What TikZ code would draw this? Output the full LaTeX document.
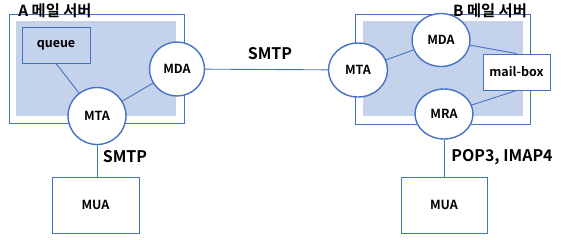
\documentclass[tikz,border=0pt]{standalone}
\usepackage{fontspec}
\setmainfont{Noto Sans CJK KR}[BoldFont={Noto Sans CJK KR Bold}]
\usetikzlibrary{shapes.geometric}
\definecolor{lnblue}{RGB}{68,114,196}
\definecolor{fillblue}{RGB}{197,210,236}
\tikzset{
  agent/.style={ellipse,draw=lnblue,line width=1.4pt,fill=white,inner sep=0pt,font=\bfseries\fontsize{12.5}{14}\selectfont},
  boxnode/.style={rectangle,draw=lnblue,line width=1pt,inner sep=0pt,font=\bfseries\fontsize{12.5}{14}\selectfont},
  conn/.style={draw=lnblue,line width=0.9pt},
  proto/.style={font=\bfseries\fontsize{16}{18}\selectfont,inner sep=0pt},
  title/.style={font=\bfseries\fontsize{15.3}{17}\selectfont,inner sep=0pt},
  server/.style={draw=lnblue,line width=1pt},
  serverfill/.style={fill=fillblue,draw=none}
}
\begin{document}
\begin{tikzpicture}[x=1pt,y=-1pt]
\useasboundingbox (0,0) rectangle (563,239);
% server A
\path[serverfill] (16,21) rectangle (176,116);
\path[server] (9,14) rectangle (184,123);
% server B
\path[serverfill] (363,21) rectangle (523,116);
\path[server] (355,14) rectangle (530,124);
% nodes A
\node[boxnode,fill=fillblue,minimum width=68pt,minimum height=36pt] (queue) at (56,45) {queue};
\node[agent,minimum width=58pt,minimum height=57pt] (mtaA) at (97,116) {MTA};
\node[agent,minimum width=55pt,minimum height=54pt] (mdaA) at (177,69) {MDA};
\node[boxnode,fill=white,minimum width=87pt,minimum height=56pt] (muaA) at (95.5,205) {MUA};
% nodes B
\node[agent,minimum width=59pt,minimum height=54pt] (mtaB) at (358,70) {MTA};
\node[agent,minimum width=58pt,minimum height=53pt] (mdaB) at (441,40) {MDA};
\node[boxnode,fill=white,minimum width=67pt,minimum height=36pt] (mailbox) at (516.5,72) {mail-box};
\node[agent,minimum width=58pt,minimum height=50pt] (mraB) at (444,114) {MRA};
\node[boxnode,fill=white,minimum width=86pt,minimum height=56pt] (muaB) at (444,205) {MUA};
% connectors
\draw[conn] (queue.south) -- (mtaA);
\draw[conn] (mtaA) -- (mdaA);
\draw[conn] (mtaA.south) -- (muaA.north -| mtaA.south);
\draw[conn] (mdaA) -- (mtaB);
\draw[conn] (mtaB) -- (mdaB);
\draw[conn] (mdaB) -- (mailbox.north);
\draw[conn] (mraB) -- (mailbox.south);
\draw[conn] (mraB.south) -- (muaB.north);
% labels
\node[title] (titleA) at (55,11) {A 메일 서버};
\node[title] (titleB) at (490,11) {B 메일 서버};
\node[proto] (smtpTop) at (270,54) {SMTP};
\node[proto] (smtpA) at (125,157) {SMTP};
\node[proto] (pop) at (502,157) {POP3, IMAP4};
\end{tikzpicture}
\end{document}
